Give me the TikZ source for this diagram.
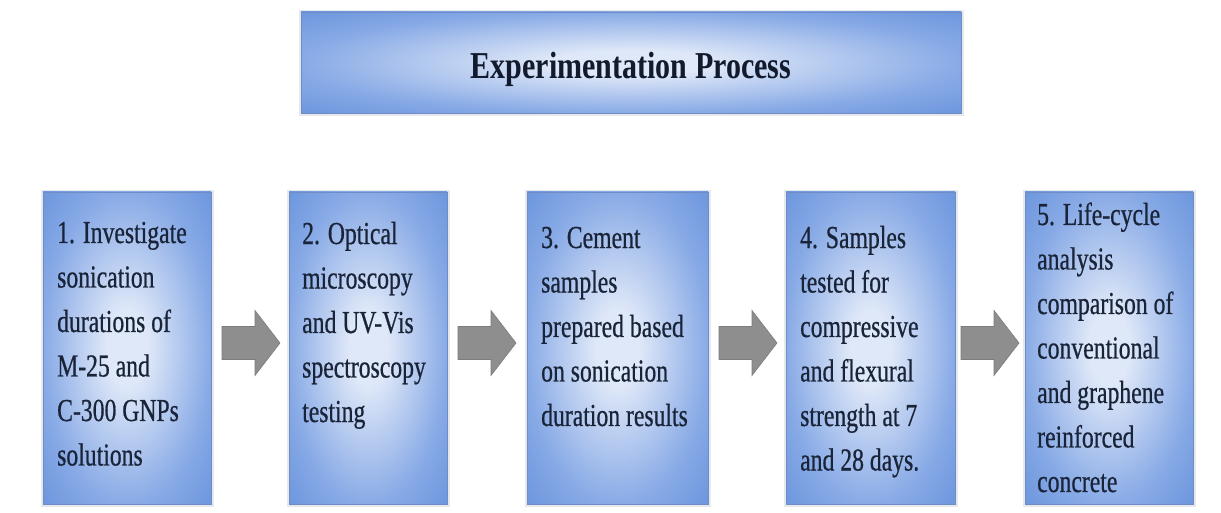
\documentclass[tikz,border=0pt]{standalone}
\usepackage{fontspec}
\setmainfont{Liberation Serif}
\newfontfamily\bodyfont[FakeStretch=0.74,FakeBold=0.6]{Liberation Serif}
\newfontfamily\titlefont[FakeStretch=0.79]{Liberation Serif Bold}
\definecolor{cin}{HTML}{DFE8F8}
\definecolor{cmid}{HTML}{88AAE6}
\definecolor{cout}{HTML}{6B95DD}
\definecolor{bordc}{HTML}{6E8DC6}
\definecolor{txtc}{HTML}{1A2438}
\definecolor{ttlc}{HTML}{121A2E}
\definecolor{arrfill}{HTML}{8E8E8E}
\definecolor{arrdraw}{HTML}{7C7C7C}
\definecolor{shadc}{HTML}{D6D9DE}
\pgfdeclareradialshading{boxshade}{\pgfpoint{0bp}{0bp}}{color(0bp)=(cin); color(6bp)=(cin); color(25bp)=(cmid); color(36bp)=(cout); color(50bp)=(cout)}
\begin{document}
\begin{tikzpicture}[x=1pt,y=-1pt,
  boxstyle/.style={rectangle, shading=boxshade, draw=bordc, line width=0.8pt, inner sep=0pt},
  txt/.style={anchor=base west, inner sep=0pt, text=txtc, font=\bodyfont\fontsize{32}{44.5}\selectfont},
  blockarr/.style={fill=arrfill, draw=arrdraw, line width=0.6pt}]
\useasboundingbox (0,0) rectangle (1221,513);
\fill[white] (0,0) rectangle (1221,513);

% soft shadows
\foreach \x/\y/\w/\h in {301/12/660/101, 43/192/168/312, 289/192/158/312, 527/192/181/312, 786/192/169/312, 1025/192/168/312}{
  \fill[shadc, opacity=0.6] (\x-2,\y-2) rectangle (\x+\w+3,\y+\h+3);
}

% title
\node[boxstyle, minimum width=660pt, minimum height=101pt] (title) at (631,62.5) {};
\node[anchor=base, inner sep=0pt, text=ttlc, font=\titlefont\fontsize{38}{44}\selectfont] (ttl) at (631,79) {Experimentation Process};

% step boxes
\node[boxstyle, minimum width=168pt, minimum height=312pt] (b1) at (127,348) {};
\node[boxstyle, minimum width=158pt, minimum height=312pt] (b2) at (368,348) {};
\node[boxstyle, minimum width=181pt, minimum height=312pt] (b3) at (617.5,348) {};
\node[boxstyle, minimum width=169pt, minimum height=312pt] (b4) at (870.5,348) {};
\node[boxstyle, minimum width=168pt, minimum height=312pt] (b5) at (1109,348) {};

% texts
\node[txt] (t1) at (57,243) {\begin{tabular}[t]{@{}l@{}}1. Investigate\\ sonication\\ durations of\\ M-25 and\\ C-300 GNPs\\ solutions\end{tabular}};
\node[txt] (t2) at (302,244) {\begin{tabular}[t]{@{}l@{}}2. Optical\\ microscopy\\ and UV-Vis\\ spectroscopy\\ testing\end{tabular}};
\node[txt] (t3) at (541,248) {\begin{tabular}[t]{@{}l@{}}3. Cement\\ samples\\ prepared based\\ on sonication\\ duration results\end{tabular}};
\node[txt] (t4) at (800,248) {\begin{tabular}[t]{@{}l@{}}4. Samples\\ tested for\\ compressive\\ and flexural\\ strength at 7\\ and 28 days.\end{tabular}};
\node[txt] (t5) at (1037,225) {\begin{tabular}[t]{@{}l@{}}5. Life-cycle\\ analysis\\ comparison of\\ conventional\\ and graphene\\ reinforced\\ concrete\end{tabular}};

% block arrows
\foreach \cx in {251,487,748,990}{
  \begin{scope}[shift={(\cx,343)}]
    \draw[blockarr] (-29,-16.5) -- (4,-16.5) -- (4,-32.5) -- (29,0) -- (4,32.5) -- (4,16.5) -- (-29,16.5) -- cycle;
  \end{scope}
}
\end{tikzpicture}
\end{document}
